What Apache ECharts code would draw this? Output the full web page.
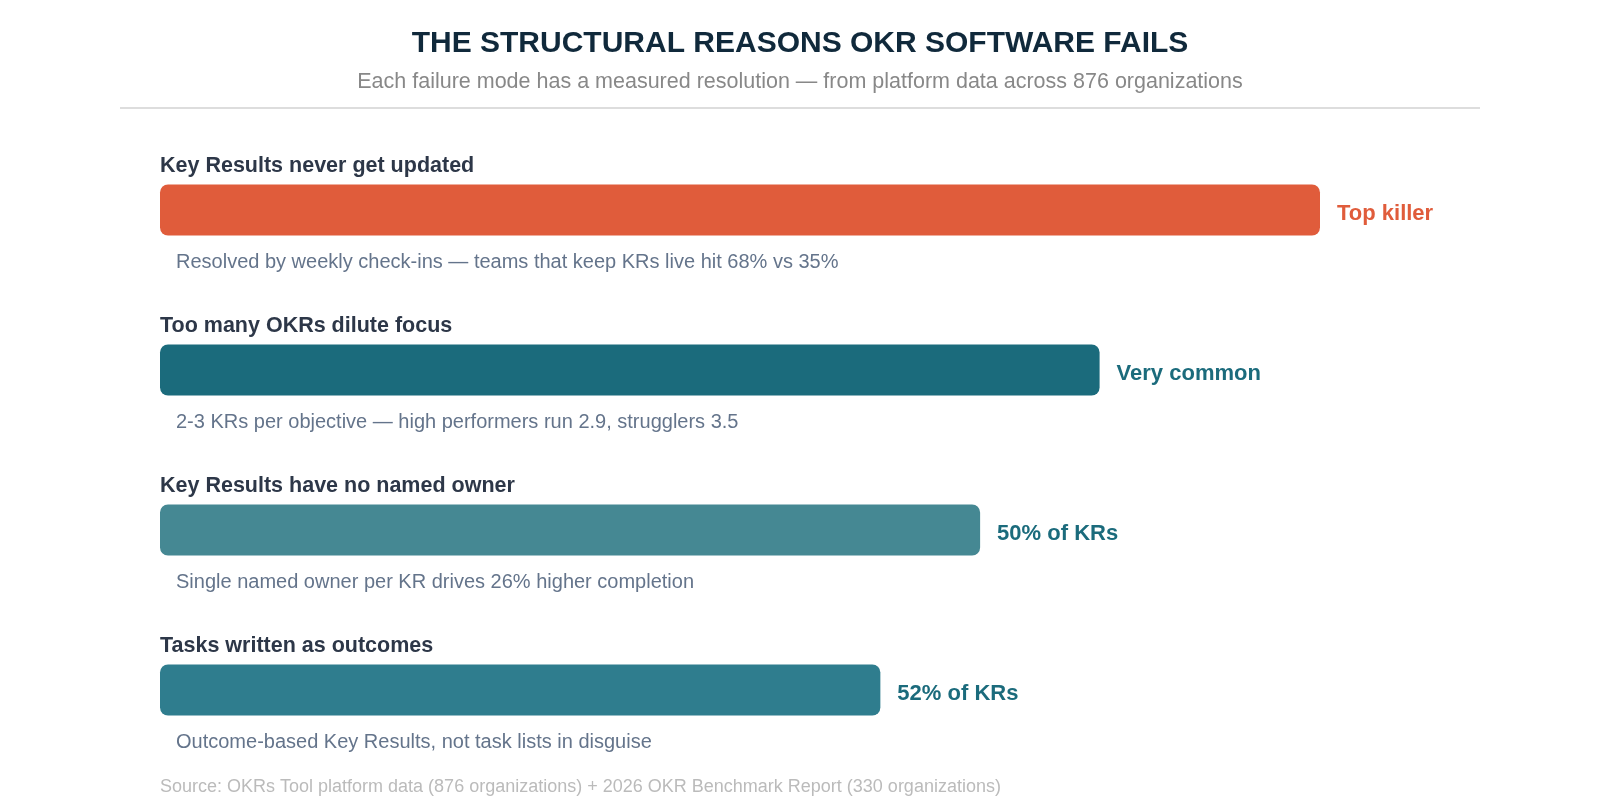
<!DOCTYPE html>
<html>
<head>
<meta charset="utf-8">
<script src="https://cdn.jsdelivr.net/npm/echarts@6/dist/echarts.min.js"></script>
<style>
  html, body { margin: 0; padding: 0; background: #fff; }
  #chart { width: 1600px; height: 800px; }
</style>
</head>
<body>
<div id="chart"></div>
<script>
const FONT = "Liberation Sans, Arial, sans-serif";

const failureModes = [
  "Key Results never get updated",
  "Too many OKRs dilute focus",
  "Key Results have no named owner",
  "Tasks written as outcomes",
];
const severity = [100, 81, 70.7, 62.1];
const tags = ["Top killer", "Very common", "50% of KRs", "52% of KRs"];
const resolutions = [
  "Resolved by weekly check-ins \u2014 teams that keep KRs live hit 68% vs 35%",
  "2-3 KRs per objective \u2014 high performers run 2.9, strugglers 3.5",
  "Single named owner per KR drives 26% higher completion",
  "Outcome-based Key Results, not task lists in disguise",
];
const barColors = ["#e05c3b", "#1b6b7c", "#458893", "#2f7d8e"];
const tagColors = ["#e05c3b", "#1b6b7c", "#1b6b7c", "#1b6b7c"];

const chart = echarts.init(document.getElementById("chart"), null, { renderer: "canvas" });

function renderRow(params, api) {
  const i = api.value(1);
  const start = api.coord([0, i]);
  const end = api.coord([api.value(0), i]);
  const h = api.size([0, 1])[1] * 0.32;
  return {
    type: "group",
    children: [
      {
        type: "rect",
        shape: { x: start[0], y: start[1] - h / 2, width: end[0] - start[0], height: h, r: 8 },
        style: { fill: barColors[i] },
      },
      {
        type: "text",
        x: start[0],
        y: start[1] - 44,
        style: {
          text: failureModes[i],
          fill: "#2d3748",
          font: "bold 21.5px " + FONT,
          verticalAlign: "middle",
        },
      },
      {
        type: "text",
        x: end[0] + 17,
        y: start[1] + 3.5,
        style: {
          text: tags[i],
          fill: tagColors[i],
          font: "bold 22px " + FONT,
          verticalAlign: "middle",
        },
      },
      {
        type: "text",
        x: start[0] + 16,
        y: start[1] + 52,
        style: {
          text: resolutions[i],
          fill: "#64748b",
          font: "20px " + FONT,
          verticalAlign: "middle",
        },
      },
    ],
  };
}

chart.setOption({
  animation: false,
  title: [
    {
      text: "THE STRUCTURAL REASONS OKR SOFTWARE FAILS",
      left: "center",
      top: 29,
      padding: 0,
      textStyle: { color: "#10293b", fontSize: 30, fontWeight: "bold", fontFamily: FONT },
    },
    {
      text: "Each failure mode has a measured resolution \u2014 from platform data across 876 organizations",
      left: "center",
      top: 71,
      padding: 0,
      textStyle: { color: "#888888", fontSize: 21.5, fontWeight: "normal", fontFamily: FONT },
    },
    {
      text: "Source: OKRs Tool platform data (876 organizations) + 2026 OKR Benchmark Report (330 organizations)",
      left: 160,
      top: 778,
      padding: 0,
      textStyle: { color: "#bbbbbb", fontSize: 18, fontWeight: "normal", fontFamily: FONT },
    },
  ],
  graphic: [
    {
      type: "line",
      shape: { x1: 120, y1: 108, x2: 1480, y2: 108 },
      style: { stroke: "#dddddd", lineWidth: 2 },
    },
  ],
  grid: { left: 160, width: 1160, top: 130, height: 640 },
  xAxis: { type: "value", min: 0, max: 100, show: false },
  yAxis: { type: "category", data: failureModes, inverse: true, show: false },
  series: [
    {
      type: "custom",
      renderItem: renderRow,
      encode: { x: 0, y: 1 },
      data: severity.map((v, i) => [v, i]),
    },
  ],
});
</script>
</body>
</html>
